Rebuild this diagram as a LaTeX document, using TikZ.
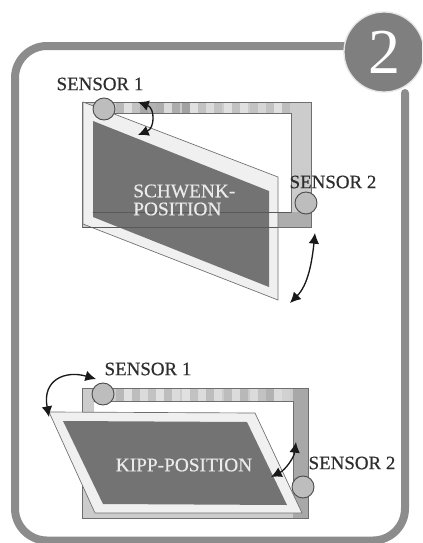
\documentclass[tikz,border=0pt]{standalone}
\usepackage{fontspec}
\setmainfont{Liberation Serif}
\newfontfamily\labelfont[FakeBold=0.5]{Liberation Serif}
\usetikzlibrary{arrows.meta}
\definecolor{framegray}{HTML}{8C8C8C}
\definecolor{badgegray}{HTML}{7F7F7F}
\definecolor{paneldark}{HTML}{737373}
\definecolor{panelline}{HTML}{6E6E6E}
\definecolor{sensorgray}{HTML}{BDBDBD}
\definecolor{textgray}{HTML}{2E2E2E}
\tikzset{
  panel/.style={fill=white!94!black, draw=panelline, line width=0.5pt},
  paneltext/.style={text=white!92!black, font=\labelfont\fontsize{14.5}{16}\selectfont, inner sep=0pt},
  sensorlabel/.style={text=textgray, font=\labelfont\fontsize{14.2}{16}\selectfont, inner sep=0pt},
  sensordot/.style={circle, draw=black!70, fill=sensorgray, line width=0.7pt, minimum size=16.5pt, inner sep=0pt},
  swing/.style={{Latex[length=8pt,width=8pt]}-{Latex[length=8pt,width=8pt]}, black!90, line width=1pt}
}
\begin{document}
\begin{tikzpicture}[x=0.75pt, y=-0.75pt, line cap=round]
  \clip (0,0) rectangle (422,543);
  \fill[white] (0,0) rectangle (422,543);
  % ---------- 1. outer frame ----------
  \draw[framegray, line width=6pt, rounded corners=24pt]
    (405,93) -- (405,540.5) -- (15,540.5) -- (15,46) -- (345,46);
  \node[circle, fill=badgegray, draw=white!90!black, line width=1pt, minimum size=60pt, inner sep=0pt,
        text=white, font=\fontsize{48}{50}\selectfont] (badge) at (384,52) {2};
  % ---------- 2. upper carrier ----------
  \fill[black!20, even odd rule] (82,102) rectangle (311,227) (95,113) rectangle (291,212);
  \foreach \x/\g in {116/28,124/12,132/24,140/34,148/30,156/32,164/14,172/32,182/36,190/12,198/24,206/14,214/24,224/12,232/24,240/12,250/24,258/16,266/24,274/12,282/26}
    {\fill[black!\g] (\x,102.5) rectangle ({\x+8},113);}
  \fill[black!32] (160,212) rectangle (311,227);
  \draw[panelline, line width=0.5pt] (82,102) rectangle (311,227);
  \draw[panelline, line width=0.5pt] (95,113) rectangle (291,212);
  % ---------- 3. upper panel ----------
  \draw[panel] (83,102) -- (278,177) -- (278,300) -- (83,224) -- cycle;
  \fill[paneldark] (93,121) -- (269,191) -- (269,287) -- (93,217) -- cycle;
  \draw[black!65, line width=0.6pt] (93,212) -- (291,212);
  \draw[black!65, line width=0.6pt] (83,227) -- (278,227);
  \node[paneltext, anchor=west] (schwenk) at (133,191) {SCHWENK-};
  \node[paneltext, anchor=west] (position) at (133,209) {POSITION};
  % ---------- upper sensors ----------
  \node[sensordot] (sensorA) at (104,109) {};
  \node[sensordot] (sensorB) at (306,203) {};
  \node[sensorlabel] (labelA) at (100,84) {SENSOR 1};
  \node[sensorlabel] (labelB) at (333,182) {SENSOR 2};
  % ---------- upper arrows ----------
  \coordinate (tiltA) at (138,102);
  \coordinate (tiltB) at (138,135);
  \coordinate (swingA) at (315,233);
  \coordinate (swingB) at (290,303);
  \draw[swing] (tiltA) .. controls (155,108) and (155,128) .. (tiltB);
  \draw[swing] (swingA) .. controls (312,262) and (308,285) .. (swingB);
  % ---------- 4. lower carrier ----------
  \fill[black!20, even odd rule] (82,388) rectangle (308,518) (94,401) rectangle (293,513);
  \foreach \x/\g in {116/28,124/12,132/26,140/14,148/24,156/12,164/26,172/14,182/12,190/24,198/14,206/26,214/14,224/26,232/14,240/28,250/14,258/24,266/30,274/14,282/18}
    {\fill[black!\g] (\x,388.5) rectangle ({\x+8},401);}
  \fill[black!34] (293,388.5) rectangle (308,518);
  \draw[panelline, line width=0.5pt] (82,388) rectangle (308,518);
  \draw[panelline, line width=0.5pt] (94,401) -- (293,401) -- (293,490);
  % ---------- 5. lower panel ----------
  \draw[panel] (49,412) -- (255,413) -- (302,513) -- (95,513) -- cycle;
  \fill[paneldark] (63,421) -- (247,422) -- (287,505) -- (103,504) -- cycle;
  \node[paneltext] (kipp) at (184,465) {KIPP-POSITION};
  % ---------- lower sensors ----------
  \node[sensordot] (sensorC) at (103,394) {};
  \node[sensordot] (sensorD) at (303,487) {};
  \node[sensorlabel] (labelC) at (148,369) {SENSOR 1};
  \node[sensorlabel] (labelD) at (352,463) {SENSOR 2};
  % ---------- lower arrows ----------
  \coordinate (tiltC) at (96,379);
  \coordinate (tiltD) at (49,417);
  \coordinate (swingC) at (296,442);
  \coordinate (swingD) at (271,477);
  \draw[swing] (tiltC) .. controls (65,370) and (42,380) .. (tiltD);
  \draw[swing] (swingC) .. controls (294,458) and (285,470) .. (swingD);
\end{tikzpicture}
\end{document}
